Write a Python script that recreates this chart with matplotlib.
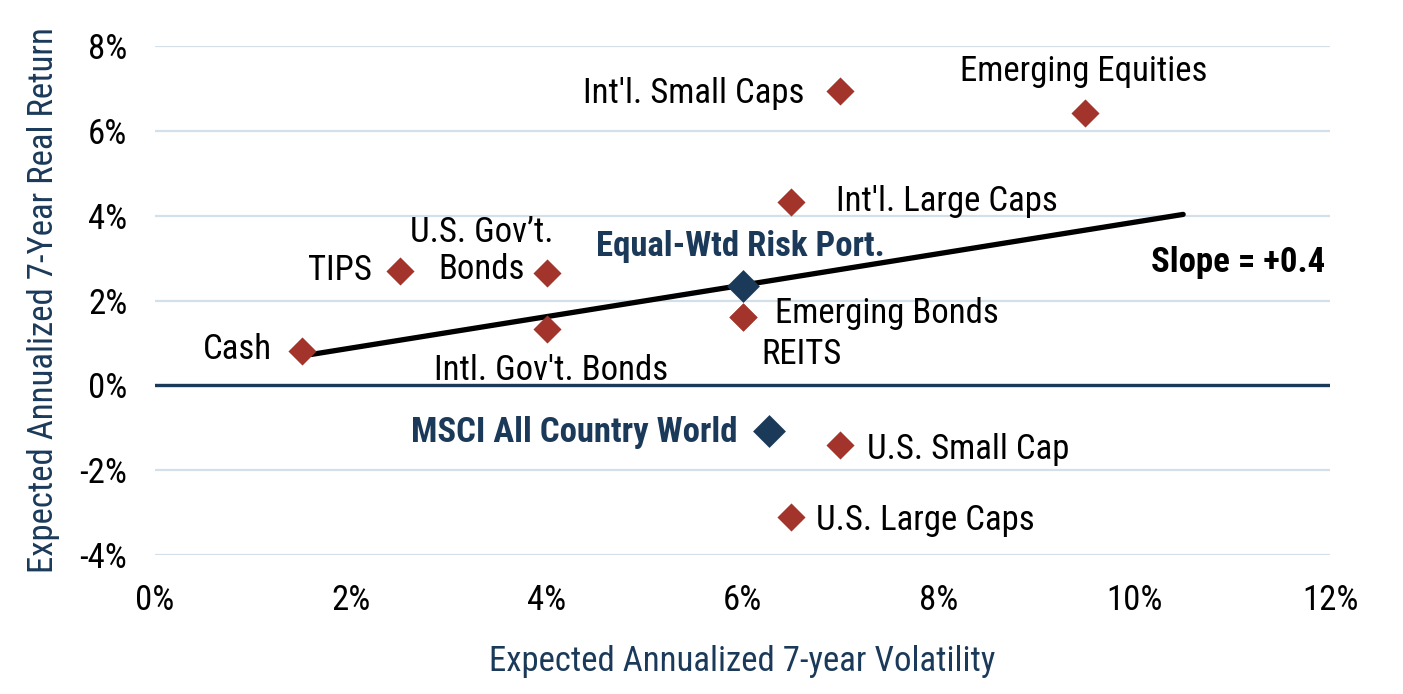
import matplotlib
matplotlib.use("Agg")
import matplotlib.pyplot as plt
from matplotlib import font_manager
from matplotlib.ticker import FuncFormatter

# pick a condensed face if one is around, otherwise plain Roboto
names = set(f.name for f in font_manager.fontManager.ttflist)
font = "Roboto"
for cand in ["Roboto Condensed", "Liberation Sans Narrow", "Open Sans Condensed"]:
    if cand in names:
        font = cand
        break
plt.rcParams['font.family'] = [font, 'DejaVu Sans']

# asset classes: volatility (%), real return (%)
assets = ["Cash", "TIPS", "U.S. Gov\u2019t.\nBonds", "Intl. Gov't. Bonds", "Emerging Bonds",
          "REITS", "Int'l. Large Caps", "Int'l. Small Caps", "Emerging Equities",
          "U.S. Small Cap", "U.S. Large Caps"]
asset_vol = [1.5, 2.5, 4.0, 4.0, 6.0, 6.0, 6.5, 7.0, 9.5, 7.0, 6.5]
asset_ret = [0.8, 2.7, 2.65, 1.32, 1.6, 1.6, 4.32, 6.93, 6.42, -1.4, -3.1]

# portfolios
ports = ["Equal-Wtd Risk Port.", "MSCI All Country World"]
port_vol = [6.0, 6.27]
port_ret = [2.35, -1.07]

# fitted line
trend_x = [1.6, 10.5]
trend_y = [0.73, 4.03]
slope_label = "Slope = +0.4"

red = "#a3342b"
navy = "#1b3a5a"
grid = "#d3dfe9"
fs = 25

# label offsets in pixels (dx, dy, ha)
asset_offs = [(-30, 2, "right"), (-28, 0, "right"), (-65, 22, "center"), (4, -41, "center"),
              (32, 4, "left"), (19, -37, "left"), (45, 1, "left"), (-36, -2, "right"),
              (-2, 42, "center"), (27, -5, "left"), (25, -4, "left")]
port_offs = [(-2, 39, "center"), (-31, -2, "right")]

fig = plt.figure(figsize=(14.03, 6.94), dpi=100)
ax = fig.add_axes([0.1105, 0.2003, 0.8375, 0.7334])

ax.set_xlim(0, 12)
ax.set_ylim(-4, 8)
ax.set_xticks(range(0, 13, 2))
ax.set_yticks(range(-4, 9, 2))
ax.yaxis.set_major_formatter(FuncFormatter(lambda v, p: f"{v:.0f}%"))
ax.xaxis.set_major_formatter(FuncFormatter(lambda v, p: f"{v:.0f}%"))
for s in ax.spines.values():
    s.set_visible(False)
ax.tick_params(length=0, labelsize=fs, colors="black")
ax.tick_params(axis="y", pad=20)
ax.tick_params(axis="x", pad=21)
ax.grid(axis="y", color=grid, lw=1.6)
ax.set_axisbelow(True)
ax.axhline(0, color=navy, lw=2.4, zorder=2)

ax.plot(trend_x, trend_y, color="black", lw=3.8, solid_capstyle="round", zorder=3)

ax.scatter(asset_vol, asset_ret, marker="D", s=205, color=red, zorder=4, linewidths=0)
ax.scatter(port_vol, port_ret, marker="D", s=280, color=navy, zorder=5, linewidths=0)

k = 0.72
for name, x, y, (dx, dy, ha) in zip(assets, asset_vol, asset_ret, asset_offs):
    ax.annotate(name, (x, y), xytext=(dx * k, dy * k), textcoords="offset points",
                ha=ha, va="center", fontsize=fs, color="black", multialignment="center",
                linespacing=1.18)
for name, x, y, (dx, dy, ha) in zip(ports, port_vol, port_ret, port_offs):
    ax.annotate(name, (x, y), xytext=(dx * k, dy * k), textcoords="offset points",
                ha=ha, va="center", fontsize=fs, color=navy, fontweight="bold")

ax.annotate(slope_label, (trend_x[1], trend_y[1]), xytext=(142 * k, -48 * k),
            textcoords="offset points", ha="right", va="center", fontsize=fs,
            fontweight="bold", color="black")

ax.set_xlabel("Expected Annualized 7-year Volatility", fontsize=fs, color=navy, labelpad=20)
ax.set_ylabel("Expected Annualized 7-Year Real Return", fontsize=fs, color=navy, labelpad=14)

fig.savefig("out.png", dpi=100)
